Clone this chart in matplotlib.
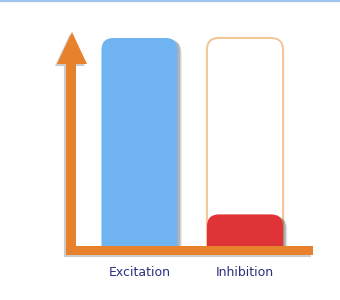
"""Excitation vs inhibition: rounded bars on a hand-drawn style arrow axis."""
import matplotlib
matplotlib.use("Agg")
import matplotlib.pyplot as plt
import matplotlib.patheffects as pe
from matplotlib.patches import FancyBboxPatch, Polygon

categories = ["Excitation", "Inhibition"]
levels = [1.0, 0.16]          # filled height of each bar
capacity = [0.0, 1.0]         # outlined "empty" bar behind (0 = none)
bar_colors = ["#6fb3f0", "#e03338"]
outline_color = "#f6c18e"
axis_color = "#e8812c"
text_color = "#2b2f7e"

W, H = 340, 300
fig = plt.figure(figsize=(W / 100, H / 100), dpi=100)

# layout in pixels (from top-left)
base_px, top_px = 248, 38      # y of value 0 and value 1
x0_px, step_px = 139.5, 105.5  # centre of first bar, spacing
left_px, right_px = 60, 320
ymax = 1.1
unit_y = base_px - top_px

ax = fig.add_axes([left_px / W, (H - base_px) / H,
                   (right_px - left_px) / W, ymax * unit_y / H])
ax.set_xlim((left_px - x0_px) / step_px, (right_px - x0_px) / step_px)
ax.set_ylim(0, ymax)
ax.patch.set_alpha(0)
for s in ax.spines.values():
    s.set_visible(False)
ax.set_yticks([])
ax.set_xticks(range(len(categories)), categories)
ax.tick_params(axis="x", length=0, pad=13, labelcolor=text_color, labelsize=9)

bw = 76 / step_px
rr = 12 / step_px
asp = (1 / unit_y) / (1 / step_px)
shadow = [pe.SimplePatchShadow(offset=(3, -2), shadow_rgbFace="k", alpha=0.12),
          pe.SimplePatchShadow(offset=(2, -1), shadow_rgbFace="k", alpha=0.2),
          pe.Normal()]
soft = [pe.SimplePatchShadow(offset=(1, -1), shadow_rgbFace="k", alpha=0.06),
        pe.SimplePatchShadow(offset=(-1, 1), shadow_rgbFace="k", alpha=0.04),
        pe.Normal()]


def rbar(x, h, **kw):
    p = FancyBboxPatch((x - bw / 2, -0.1), bw, h + 0.1,
                       boxstyle=f"round,pad=0,rounding_size={rr}",
                       mutation_aspect=asp, **kw)
    ax.add_patch(p)
    return p


for i, (v, cap) in enumerate(zip(levels, capacity)):
    if cap:
        rbar(i, cap, fc="white", ec=outline_color, lw=1.3, path_effects=soft)
    rbar(i, v, fc=bar_colors[i], ec="none", path_effects=shadow)

# overlay for the arrow axis and the top rule
deco = fig.add_axes([0, 0, 1, 1], zorder=3)
deco.set_xlim(0, W)
deco.set_ylim(H, 0)
deco.axis("off")
deco.patch.set_alpha(0)
arrow = Polygon([(66, 255), (313, 255), (313, 246), (76, 246), (76, 64),
                 (87, 64), (72, 32), (57, 64), (66, 64)],
                closed=True, fc=axis_color, ec="none",
                path_effects=[pe.SimplePatchShadow(offset=(-1.5, -1.5),
                                                   shadow_rgbFace="k", alpha=0.2),
                              pe.Normal()])
deco.add_patch(arrow)
deco.plot([0, W], [0.8, 0.8], color="#9fc4ec", lw=1.6)

fig.savefig("out.png", dpi=100)
